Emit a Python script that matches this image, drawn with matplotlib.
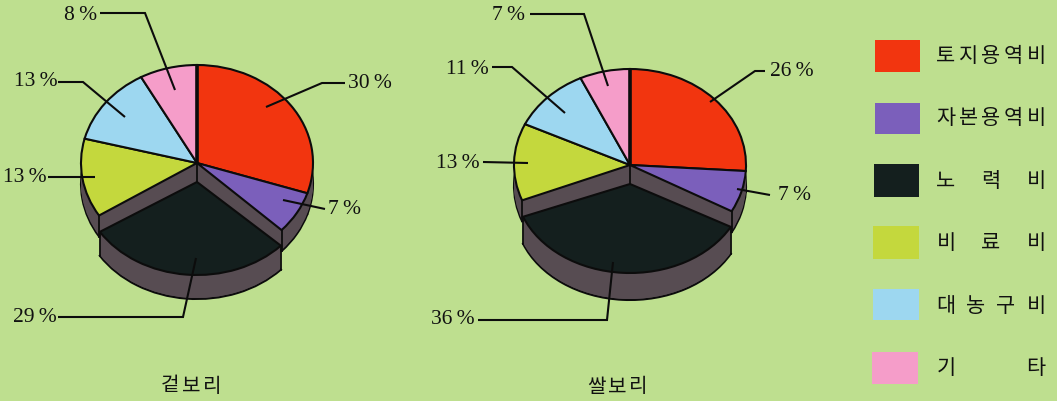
import numpy as np
import matplotlib
matplotlib.use('Agg')
import matplotlib.pyplot as plt
from matplotlib.patches import Rectangle

W, H = 1057, 401

# values, clockwise from 12 o'clock
categories = ['토지용역비', '자본용역비', '노력비', '비료비', '대농구비', '기타']
hulled_barley = [30, 7, 29, 13, 13, 8]
naked_barley = [26, 7, 36, 13, 11, 7]
pie_titles = ['겉보리', '쌀보리']

BG = '#BEDF8F'
WALL = '#574C52'
EDGE = '#0C0C0C'
colors = ['#F2350F', '#7B5FBB', '#141F1E', '#C4D83D', '#9DD7F0', '#F59DC9']
BLACK_SLICE = 2

# label anchor and leader line for each slice, in image pixels
hulled_leaders = [
    [(266, 107), (322, 83), (345, 83)],
    [(283, 200), (325, 209)],
    [(196, 258), (183, 317), (58, 317)],
    [(95, 177), (48, 177)],
    [(125, 117), (83, 82), (58, 82)],
    [(175, 90), (145, 13), (100, 13)],
]
hulled_labels = [(370, 84), (344, 210), (35, 318), (25, 177), (36, 81), (81, 15)]
naked_leaders = [
    [(710, 102), (755, 71), (765, 71)],
    [(737, 189), (770, 195)],
    [(613, 262), (607, 320), (478, 320)],
    [(528, 163), (483, 162)],
    [(565, 113), (512, 67), (492, 67)],
    [(608, 86), (584, 14), (530, 14)],
]
naked_labels = [(792, 71), (794, 195), (453, 320), (458, 164), (467, 69), (509, 15)]

swatches = [(875, 40, 45, 32), (875, 103, 45, 31), (874, 164, 45, 33),
            (873, 226, 46, 33), (873, 289, 46, 31), (872, 352, 46, 32)]
legend_y = [56, 118, 181, 243, 306, 368]


def pie_axes(fig, cx, cy, rx, ry, z):
    """ Axes where one data unit is rx pixels across and ry pixels down """
    ax = fig.add_axes([(cx - 1.4 * rx) / W, (H - cy - 1.7 * ry) / H,
                       2.8 * rx / W, 3.0 * ry / H], zorder=z)
    return ax


def slices(ax, values, y, keep, edge=True, top=False):
    lw = 1.5 if edge else 0
    ec = EDGE if edge else 'none'
    cols = colors if top else [WALL] * len(values)
    wedges, _ = ax.pie(values, colors=cols, startangle=90, counterclock=False,
                       center=(0, y), radius=1,
                       wedgeprops={'linewidth': lw, 'edgecolor': ec})
    for i, w in enumerate(wedges):
        w.set_visible(keep(i))


def cut_angles(values):
    """ Angles of the two edges of the pulled out slice """
    total = sum(values)
    start = sum(values[:BLACK_SLICE])
    end = start + values[BLACK_SLICE]
    return [np.radians(90 - 360 * s / total) for s in (start, end)]


def solid(ax, values, depth, ry, keep, apex=False):
    low = -depth / ry
    slices(ax, values, low, keep)
    for d in range(depth - 1, 0, -1):
        slices(ax, values, -d / ry, keep, edge=False)
    # vertical edges where the slice was cut away
    xs = [np.cos(a) for a in cut_angles(values)]
    ys = [np.sin(a) for a in cut_angles(values)]
    if apex:
        xs.append(0)
        ys.append(0)
    for x, y in zip(xs, ys):
        ax.plot([x, x], [y, y + low], color=EDGE, lw=1.3)
    slices(ax, values, 0, keep, top=True)
    ax.set_aspect('auto')
    ax.set_xlim(-1.4, 1.4)
    ax.set_ylim(-1.7, 1.3)


def draw_pie(fig, values, main, drop, depth, drop_depth):
    ax = pie_axes(fig, *main, 1)
    solid(ax, values, depth, main[3], lambda i: i != BLACK_SLICE, apex=True)
    ax.plot([0, 0], [0, 1], color=EDGE, lw=2.6, solid_capstyle='butt')
    ax.set_xlim(-1.4, 1.4)
    ax.set_ylim(-1.7, 1.3)
    ax2 = pie_axes(fig, *drop, 2)
    solid(ax2, values, drop_depth, drop[3], lambda i: i == BLACK_SLICE)


def spaced_text(ax, name, x0, x1, y, size):
    """ Hangul set glyph by glyph so the row fills x0..x1 """
    for x, ch in zip(np.linspace(x0, x1, len(name)), name):
        ax.text(x, y, ch, family=kr, fontsize=size, ha='center', va='center', color='#111111')


fig = plt.figure(figsize=(W / 100, H / 100), dpi=100, facecolor=BG)

draw_pie(fig, hulled_barley, (197, 163, 116, 98), (197, 182, 115, 93), 21, 24)
draw_pie(fig, naked_barley, (630, 165, 116, 96), (630, 184, 115, 89), 21, 27)

# top layer in image pixels for leaders, labels and the legend
top = fig.add_axes([0, 0, 1, 1], zorder=3)
top.set_xlim(0, W)
top.set_ylim(H, 0)
top.axis('off')

kr = ['Noto Sans CJK KR', 'DejaVu Sans']
for vals, leaders, anchors in [(hulled_barley, hulled_leaders, hulled_labels),
                               (naked_barley, naked_leaders, naked_labels)]:
    for v, line, pos in zip(vals, leaders, anchors):
        top.plot([p[0] for p in line], [p[1] for p in line], color=EDGE, lw=1.5,
                 solid_joinstyle='miter', solid_capstyle='butt')
        top.text(pos[0], pos[1], f'{v}\u2009%', family=['Liberation Serif', 'DejaVu Serif'],
                 fontsize=15.5, ha='center', va='center', color='#111111')

spaced_text(top, pie_titles[0], 170, 212, 386, 14.5)
spaced_text(top, pie_titles[1], 596, 638, 387, 14.5)

for name, box, c, y in zip(categories, swatches, colors, legend_y):
    top.add_patch(Rectangle(box[:2], box[2], box[3], facecolor=c, edgecolor='none'))
    spaced_text(top, name, 946, 1036, y, 15)

fig.savefig('out.png', dpi=100)
